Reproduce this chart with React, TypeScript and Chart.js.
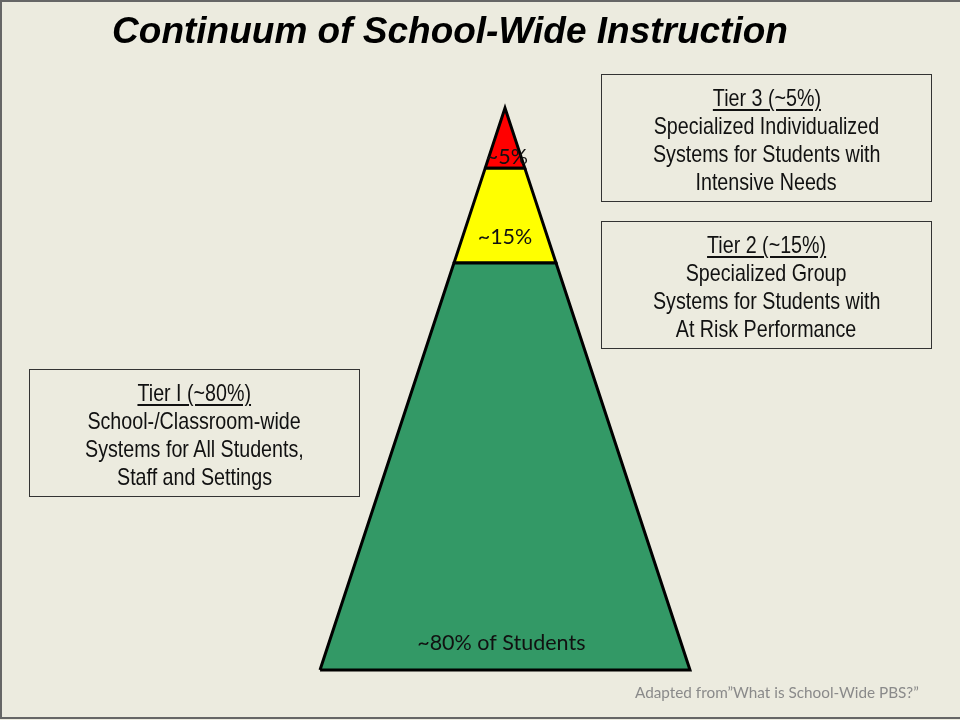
import React, { useEffect, useRef } from "react";
import { Chart, registerables } from "chart.js";

Chart.register(...registerables);

// ---- data ----
const chartTitle = "Continuum of School-Wide Instruction";
const tierKeys = ["Tier I", "Tier 2", "Tier 3"];
const tierShares = [80, 15, 5];
// pyramid bands, as % of pyramid height from base to apex
const bandLevels = [0, 72.4, 89.3, 100];
const pyramidLabels = ["~80% of Students", "~15%", "~5%"];
const pyramidLabelLevels = [4.8, 77.0, 91.3];
const pyramidLabelOffsets = [-0.02, 0, 0.01];
const tierColors = ["#339966", "#ffff00", "#ff0000"];
const tierHeadings = ["Tier I (~80%)", "Tier 2 (~15%)", "Tier 3 (~5%)"];
const tierDescriptions = [
  ["School-/Classroom-wide", "Systems for All Students,", "Staff and Settings"],
  ["Specialized Group", "Systems for Students with", "At Risk Performance"],
  ["Specialized Individualized", "Systems for Students with", "Intensive Needs"],
];
const footnote = "Adapted from\u201dWhat is School-Wide PBS?\u201d";

const halfWidth = (h: number) => 1 - h / 100;

function bandPolygon(lo: number, hi: number) {
  return [
    { x: -halfWidth(lo), y: lo },
    { x: halfWidth(lo), y: lo },
    { x: halfWidth(hi), y: hi },
    { x: -halfWidth(hi), y: hi },
    { x: -halfWidth(lo), y: lo },
  ];
}

const labelPlugin = {
  id: "pyramidLabels",
  afterDatasetsDraw(chart: any) {
    const { ctx, scales } = chart;
    ctx.save();
    ctx.fillStyle = "#111";
    ctx.textAlign = "center";
    ctx.textBaseline = "middle";
    ctx.font = "21.5px Lato, 'Open Sans', sans-serif";
    pyramidLabels.forEach((t, i) => {
      ctx.fillText(
        t,
        scales.x.getPixelForValue(pyramidLabelOffsets[i]),
        scales.y.getPixelForValue(pyramidLabelLevels[i])
      );
    });
    ctx.restore();
  },
};

const boxFont = "'Liberation Sans', Arial, sans-serif";

function Narrow({ children, underline }: { children: React.ReactNode; underline?: boolean }) {
  return (
    <div style={{ height: 28, whiteSpace: "nowrap" }}>
      <span
        style={{
          display: "inline-block",
          transform: "scaleX(0.82)",
          transformOrigin: "center",
          textDecoration: underline ? "underline" : "none",
          textUnderlineOffset: 3,
        }}
      >
        {children}
      </span>
    </div>
  );
}

function TierBox({ idx, left, top }: { idx: number; left: number; top: number }) {
  return (
    <div
      style={{
        position: "absolute",
        left,
        top,
        width: 331,
        height: 128,
        border: "1px solid #333",
        boxSizing: "border-box",
        textAlign: "center",
        fontFamily: boxFont,
        fontSize: 24,
        lineHeight: "28px",
        color: "#111",
        paddingTop: 9,
      }}
    >
      <Narrow underline>{tierHeadings[idx]}</Narrow>
      {tierDescriptions[idx].map((l, i) => (
        <Narrow key={i}>{l}</Narrow>
      ))}
    </div>
  );
}

export default function App() {
  const ref = useRef<HTMLCanvasElement>(null);
  useEffect(() => {
    document.body.style.margin = "0";
    const datasets = tierKeys.map((k, i) => ({
      label: `${k} ${tierShares[i]}%`,
      data: bandPolygon(bandLevels[i], bandLevels[i + 1]),
      showLine: true,
      fill: "shape",
      backgroundColor: tierColors[i],
      borderColor: "#000",
      borderWidth: 3,
      borderJoinStyle: "miter",
      pointRadius: 0,
      tension: 0,
      clip: false,
    }));
    const chart = new Chart(ref.current!, {
      type: "scatter",
      data: { datasets: datasets as any },
      options: {
        animation: false,
        responsive: false,
        layout: { padding: { left: 320, right: 270, top: 108, bottom: 50 } },
        scales: {
          x: { type: "linear", min: -1, max: 1, display: false },
          y: { type: "linear", min: 0, max: 100, display: false },
        },
        plugins: { legend: { display: false }, tooltip: { enabled: false } },
      },
      plugins: [labelPlugin],
    });
    return () => chart.destroy();
  }, []);

  return (
    <div style={{ position: "relative", width: 960, height: 720, background: "#ecebdf", overflow: "hidden" }}>
      <canvas ref={ref} width={960} height={720} style={{ position: "absolute", left: 0, top: 0 }} />
      <div
        style={{
          position: "absolute",
          left: 0,
          top: 10,
          width: 900,
          textAlign: "center",
          fontFamily: "'Liberation Sans', Arial, sans-serif",
          fontWeight: "bold",
          fontStyle: "italic",
          fontSize: 37,
          color: "#000",
          whiteSpace: "nowrap",
        }}
      >
        {chartTitle}
      </div>
      <TierBox idx={2} left={601} top={74} />
      <TierBox idx={1} left={601} top={221} />
      <TierBox idx={0} left={29} top={369} />
      <div
        style={{
          position: "absolute",
          left: 635,
          top: 683,
          fontFamily: "Lato, 'Open Sans', sans-serif",
          fontSize: 15.3,
          color: "#8a8a8a",
          whiteSpace: "nowrap",
        }}
      >
        {footnote}
      </div>
      <div
        style={{
          position: "absolute",
          left: 0,
          top: 0,
          width: 960,
          height: 719,
          borderTop: "2px solid #666",
          borderLeft: "2px solid #666",
          borderBottom: "2px solid #666",
          boxSizing: "border-box",
          pointerEvents: "none",
        }}
      />
    </div>
  );
}
